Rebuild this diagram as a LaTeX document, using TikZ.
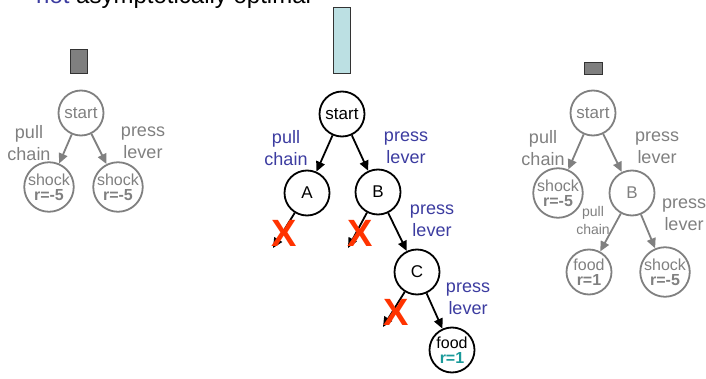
\documentclass[tikz,border=0pt]{standalone}
\usepackage{fontspec}
\setmainfont{Liberation Sans}
\usetikzlibrary{arrows.meta}
\definecolor{navy}{HTML}{3C3CA0}
\definecolor{teal}{HTML}{1A9A9A}
\definecolor{greyline}{HTML}{808080}
\definecolor{crossred}{HTML}{FF3300}
\definecolor{barblue}{HTML}{BCE0E3}
\definecolor{bargrey}{HTML}{7F7F7F}
\tikzset{
  state/.style={circle, draw, line width=1.8pt, inner sep=0pt, minimum size=45pt, align=center, font=\fontsize{17}{17}\selectfont},
  greystate/.style={state, draw=greyline, text=greyline},
  leaf/.style={font=\fontsize{16}{15}\selectfont},
  act/.style={-{Triangle[length=10pt,width=9pt]}, line width=1.8pt},
  greyact/.style={act, draw=greyline, greyline},
  lbl/.style={align=center, font=\fontsize{18}{22}\selectfont, inner sep=0pt},
  bluelbl/.style={lbl, text=navy},
  greylbl/.style={lbl, text=greyline},
  cross/.style={text=crossred, font=\fontsize{38}{38}\selectfont\bfseries, inner sep=0pt},
  bar/.style={draw=black!80, line width=0.8pt}
}
\begin{document}
\begin{tikzpicture}[x=1pt, y=-1pt]
\useasboundingbox (0,0) rectangle (706,379);

% heading (partly cut off at the top)
\node[anchor=base west, inner sep=0pt, font=\fontsize{24}{24}\selectfont] (head) at (36,4)
  {\textcolor{navy}{not} asymptotically optimal};

% bars above each tree
\draw[bar, fill=bargrey] (70,49) rectangle (87,73);
\draw[bar, fill=barblue] (333,7) rectangle (350,73);
\draw[bar, fill=bargrey] (584,62) rectangle (602,74);

% left tree
\node[greystate] (ls) at (81,113) {start};
\node[greystate, leaf] (l1) at (49,187) {shock\\\textbf{r=-5}};
\node[greystate, leaf] (l2) at (118,187) {shock\\\textbf{r=-5}};
\draw[greyact] (ls) -- (l1);
\draw[greyact] (ls) -- (l2);
\node[greylbl] (ll1) at (29,143) {pull\\chain};
\node[greylbl] (ll2) at (143,143) {press\\lever};

% middle tree
\node[state] (ms) at (342,114) {start};
\node[state] (ma) at (307,193) {A};
\node[state] (mb) at (378,192) {B};
\node[state] (mc) at (417,272) {C};
\node[state, leaf] (mf) at (452,350) {food\\\textcolor{teal}{\textbf{r=1}}};
\draw[act] (ms) -- (ma);
\draw[act] (ms) -- (mb);
\draw[act] (mb) -- (mc);
\draw[act] (mc) -- (mf);
\coordinate (ea) at (273,248);
\coordinate (eb) at (348,248);
\coordinate (ec) at (383,327);
\draw[act] (ma) -- (ea);
\draw[act] (mb) -- (eb);
\draw[act] (mc) -- (ec);
\node[cross] (xa) at (284,233) {X};
\node[cross] (xb) at (360,233) {X};
\node[cross] (xc) at (396,312) {X};
\node[bluelbl] (m1) at (286,148) {pull\\chain};
\node[bluelbl] (m2) at (406,148) {press\\lever};
\node[bluelbl] (m3) at (432,221) {press\\lever};
\node[bluelbl] (m4) at (468,299) {press\\lever};

% right tree
\node[greystate] (rs) at (593,113) {start};
\node[greystate, leaf] (r1) at (558,193) {shock\\\textbf{r=-5}};
\node[greystate] (rb) at (632,193) {B};
\node[greystate, leaf] (r2) at (589,272) {food\\\textbf{r=1}};
\node[greystate, leaf] (r3) at (665,272) {shock\\\textbf{r=-5}};
\draw[greyact] (rs) -- (r1);
\draw[greyact] (rs) -- (rb);
\draw[greyact] (rb) -- (r2);
\draw[greyact] (rb) -- (r3);
\node[greylbl] (rl1) at (543,148) {pull\\chain};
\node[greylbl] (rl2) at (657,148) {press\\lever};
\node[greylbl, font=\fontsize{14}{18}\selectfont] (rl3) at (593,220) {pull\\chain};
\node[greylbl] (rl4) at (684,215) {press\\lever};
\end{tikzpicture}
\end{document}
